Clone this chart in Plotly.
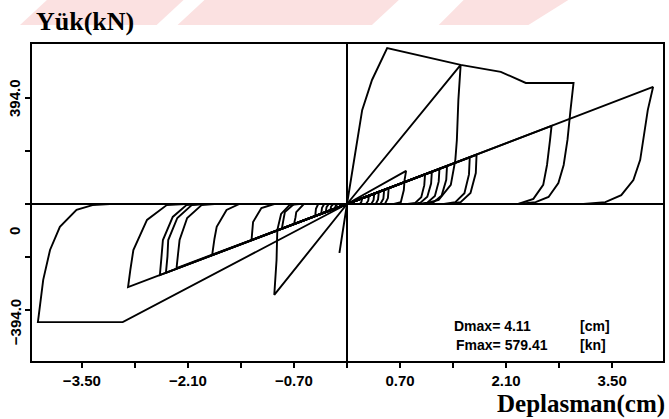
import plotly.graph_objects as go

# ---------------- data (displacement cm, load kN) ----------------
# positive side
P1_x = [0, 0.05, 0.09, 0.13, 0.20, 0.33, 0.53, 1.50, 2.03, 2.36, 2.99, 2.95, 2.91, 2.86, 2.79, 2.66, 2.49, 2.26, 0]
P1_y = [0, 89, 164, 238, 349, 461, 579.4, 517, 491, 450, 450, 349, 238, 145, 78, 26, 7, 0, 0]
P2_x = [0, 1.50, 1.47, 1.45, 1.43, 1.37, 1.21, 1.01, 0]
P2_y = [0, 517, 387, 238, 164, 71, 15, 0, 0]
P3_x = [0, 4.04, 3.97, 3.91, 3.87, 3.78, 3.62, 3.41, 3.12, 0]
P3_y = [0, 435, 349, 238, 164, 89, 33, 7, 0, 0]
P4_x = [0, 2.70, 2.68, 2.64, 2.59, 2.46, 2.26, 0]
P4_y = [0, 290, 238, 145, 71, 19, 0, 0]
P5_x = [0, 1.71, 1.70, 1.63, 1.50, 1.35, 0]
P5_y = [0, 183, 115, 41, 7, 0, 0]
P6_x = [0, 1.62, 1.61, 1.55, 1.43, 1.28, 0]
P6_y = [0, 173, 110, 40, 7, 0, 0]
P7_x = [0, 1.32, 1.31, 1.25, 1.14, 1.02, 0]
P7_y = [0, 141, 90, 32, 6, 0, 0]
P8_x = [0, 1.22, 1.21, 1.16, 1.06, 0.95, 0]
P8_y = [0, 130, 83, 30, 5, 0, 0]
P9_x = [0, 1.12, 1.11, 1.06, 0.97, 0.87, 0]
P9_y = [0, 120, 76, 27, 5, 0, 0]
P10_x = [0, 1.03, 1.02, 0.98, 0.90, 0.80, 0]
P10_y = [0, 110, 70, 25, 4, 0, 0]
PT_x = [0, 0.78, 0.76, 0.75, 0.71, 0.62, 0]
PT_y = [0, 123, 90, 52, 7, 0, 0]
PS1_x = [0, 0.55, 0.54, 0.50, 0]
PS1_y = [0, 59, 22, 0, 0]
PS2_x = [0, 0.49, 0.48, 0.44, 0]
PS2_y = [0, 52, 20, 0, 0]
PS3_x = [0, 0.42, 0.41, 0.38, 0]
PS3_y = [0, 45, 17, 0, 0]
PS4_x = [0, 0.36, 0.35, 0.32, 0]
PS4_y = [0, 38, 14, 0, 0]
PS5_x = [0, 0.29, 0.28, 0.25, 0]
PS5_y = [0, 31, 12, 0, 0]
PS6_x = [0, 0.20, 0.19, 0.17, 0]
PS6_y = [0, 21, 8, 0, 0]

# negative side
N1_x = [0, -2.96, -4.08, -4.01, -3.92, -3.79, -3.57, -3.36, -3.13, 0]
N1_y = [0, -439, -439, -282, -171, -85, -22, -4, 0, 0]
N2_x = [0, -2.89, -2.86, -2.82, -2.64, -2.38, -2.14, 0]
N2_y = [0, -309, -245, -171, -59, -4, 0, 0]
N3_x = [0, -2.47, -2.45, -2.43, -2.30, -2.12, -1.95, 0]
N3_y = [0, -264, -200, -134, -48, -4, 0, 0]
N4_x = [0, -2.39, -2.37, -2.36, -2.24, -2.05, -1.88, 0]
N4_y = [0, -256, -195, -134, -52, -4, 0, 0]
N5_x = [0, -2.25, -2.23, -2.21, -2.11, -1.92, -1.75, 0]
N5_y = [0, -238, -185, -134, -52, -4, 0, 0]
N6_x = [0, -1.78, -1.75, -1.72, -1.59, -1.42, 0]
N6_y = [0, -190, -130, -85, -22, 0, 0]
N7_x = [0, -1.26, -1.25, -1.24, -1.13, -0.96, 0]
N7_y = [0, -134, -100, -67, -15, 0, 0]
N8_x = [0, -0.86, -0.84, -0.82, -0.70, 0]
N8_y = [0, -92, -60, -30, 0, 0]
N9_x = [0, -0.70, -0.68, -0.67, -0.57, 0]
N9_y = [0, -75, -50, -30, 0, 0]
NT_x = [0, -0.96, -0.93, -0.92, -0.87, -0.76, -0.63, 0]
NT_y = [0, -338, -208, -97, -37, -4, 0, 0]
NQ_x = [0, -0.10, 0]
NQ_y = [0, -182, 0]
NS1_x = [0, -0.42, -0.41, -0.38, 0]
NS1_y = [0, -45, -18, 0, 0]
NS2_x = [0, -0.34, -0.33, -0.30, 0]
NS2_y = [0, -36, -14, 0, 0]
NS3_x = [0, -0.28, -0.27, -0.24, 0]
NS3_y = [0, -30, -12, 0, 0]
NS4_x = [0, -0.22, -0.21, -0.18, 0]
NS4_y = [0, -23, -9, 0, 0]
NS5_x = [0, -0.16, -0.15, -0.12, 0]
NS5_y = [0, -17, -7, 0, 0]

x_tickvals = [-3.5, -2.8, -2.1, -1.4, -0.7, 0, 0.7, 1.4, 2.1, 2.8, 3.5]
x_ticktext = ["\u22123.50", "", "\u22122.10", "", "\u22120.70", "", "0.70", "", "2.10", "", "3.50"]
y_tickvals = [394, 197, 0, -197, -394]
y_labels = ["394.0", "0", "\u2212394.0"]
y_label_pos = [394, -100, -439]

loops = [
    (P1_x, P1_y), (P2_x, P2_y), (P3_x, P3_y), (P4_x, P4_y), (P5_x, P5_y), (P6_x, P6_y),
    (P7_x, P7_y), (P8_x, P8_y), (P9_x, P9_y), (P10_x, P10_y), (PT_x, PT_y),
    (PS1_x, PS1_y), (PS2_x, PS2_y), (PS3_x, PS3_y), (PS4_x, PS4_y), (PS5_x, PS5_y), (PS6_x, PS6_y),
    (N1_x, N1_y), (N2_x, N2_y), (N3_x, N3_y), (N4_x, N4_y), (N5_x, N5_y), (N6_x, N6_y),
    (N7_x, N7_y), (N8_x, N8_y), (N9_x, N9_y), (NT_x, NT_y), (NQ_x, NQ_y),
    (NS1_x, NS1_y), (NS2_x, NS2_y), (NS3_x, NS3_y), (NS4_x, NS4_y), (NS5_x, NS5_y),
]

# ---------------- figure ----------------
W, H = 669, 419
L, R, T, B = 32, 665, 44, 361

def px(xp):
    return (xp - L) / (R - L)

def py(yp):
    return (B - yp) / (B - T)

fig = go.Figure()
for lx, ly in loops:
    fig.add_trace(go.Scatter(x=lx, y=ly, mode="lines",
                             line=dict(color="black", width=1.9),
                             showlegend=False, hoverinfo="skip"))

# faint watermark bands
bands = [((20, 157), (47, 184)), ((178, 373), (205, 400)), ((440, 530), (465, 570))]
shapes = []
for (b0, b1), (t0, t1) in bands:
    path = (f"M {px(b0)},{py(25)} L {px(b1)},{py(25)} L {px(t1)},{py(0)} "
            f"L {px(t0)},{py(0)} Z")
    shapes.append(dict(type="path", path=path, xref="paper", yref="paper",
                       fillcolor="#fbe1e1", line=dict(width=0), layer="below"))

annotations = []
for lab, yv in zip(y_labels, y_label_pos):
    annotations.append(dict(text=lab, x=px(15), y=yv, xref="paper", yref="y",
                            showarrow=False, textangle=-90, xanchor="center", yanchor="middle",
                            font=dict(family="Liberation Sans", size=15, color="black", weight="bold")))
annotations += [
    dict(text="Yük(kN)", x=px(34), y=py(21), xref="paper", yref="paper", showarrow=False,
         xanchor="left", yanchor="middle",
         font=dict(family="Liberation Serif", size=26, color="black", weight="bold")),
    dict(text="Deplasman(cm)", x=px(669), y=py(404), xref="paper", yref="paper", showarrow=False,
         xanchor="right", yanchor="middle",
         font=dict(family="Liberation Serif", size=25, color="black", weight="bold")),
    dict(text="Dmax= 4.11", x=px(453), y=py(326), xref="paper", yref="paper", showarrow=False,
         xanchor="left", yanchor="middle",
         font=dict(family="Liberation Sans", size=14, color="black", weight="bold")),
    dict(text="[cm]", x=px(580), y=py(326), xref="paper", yref="paper", showarrow=False,
         xanchor="left", yanchor="middle",
         font=dict(family="Liberation Sans", size=14, color="black", weight="bold")),
    dict(text="Fmax= 579.41", x=px(455), y=py(345), xref="paper", yref="paper", showarrow=False,
         xanchor="left", yanchor="middle",
         font=dict(family="Liberation Sans", size=14, color="black", weight="bold")),
    dict(text="[kn]", x=px(580), y=py(345), xref="paper", yref="paper", showarrow=False,
         xanchor="left", yanchor="middle",
         font=dict(family="Liberation Sans", size=14, color="black", weight="bold")),
]

fig.update_layout(
    width=W, height=H,
    margin=dict(l=L, r=W - R, t=T, b=H - B, pad=0),
    paper_bgcolor="white", plot_bgcolor="white",
    shapes=shapes, annotations=annotations,
    xaxis=dict(range=[-4.158, 4.171], showgrid=False, zeroline=True, zerolinecolor="black",
               zerolinewidth=2, showline=True, mirror=True, linecolor="black", linewidth=2,
               tickmode="array", tickvals=x_tickvals, ticktext=x_ticktext,
               ticks="outside", ticklen=5, tickwidth=1.5, tickcolor="black",
               tickfont=dict(family="Liberation Sans", size=15, color="black", weight="bold")),
    yaxis=dict(range=[-583.6, 594.7], showgrid=False, zeroline=True, zerolinecolor="black",
               zerolinewidth=2, showline=True, mirror=True, linecolor="black", linewidth=2,
               tickmode="array", tickvals=y_tickvals, showticklabels=False,
               ticks="outside", ticklen=5, tickwidth=1.5, tickcolor="black"),
)

fig.write_html("out.html", config={"displayModeBar": False},
               post_script="document.body.style.margin='0';document.body.style.padding='0';")
